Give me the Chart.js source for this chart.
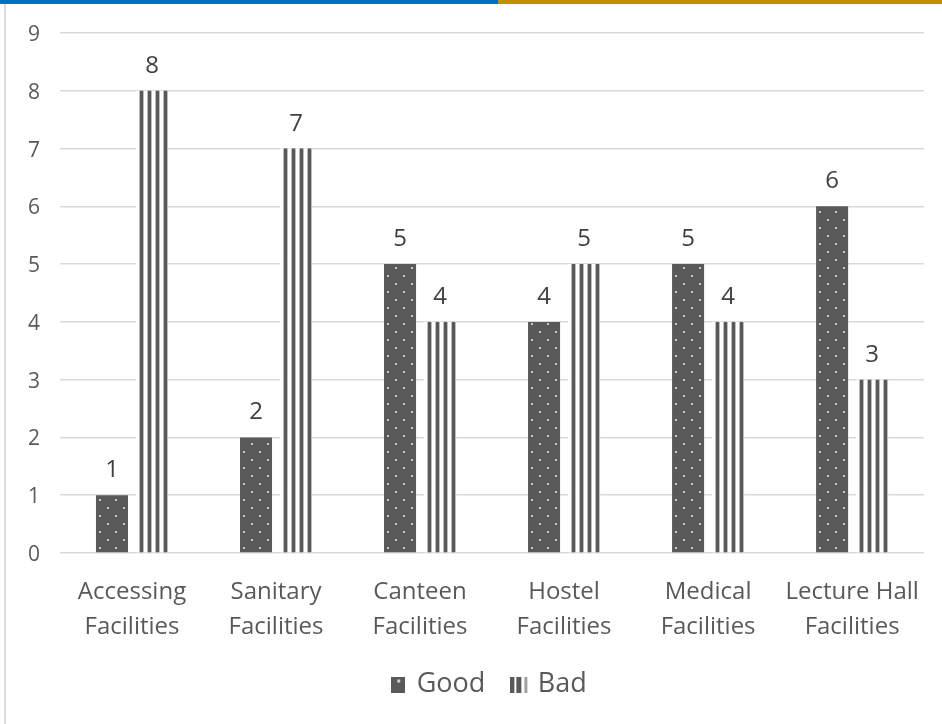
<!DOCTYPE html>
<html>
<head>
<meta charset="utf-8">
<script src="https://cdn.jsdelivr.net/npm/chart.js@4"></script>
<style>
  html, body { margin: 0; padding: 0; background: #fff; }
  #topbar { position: absolute; left: 0; top: 0; width: 942px; height: 4px;
    background: linear-gradient(to right, #0070c0 0, #0070c0 498px, #c09000 498px, #c09000 100%); }
  #edge { position: absolute; left: 4px; top: 4px; width: 2px; height: 720px; background: #dcdcdc; }
  #wrap { position: absolute; left: 0; top: 0; width: 942px; height: 724px; }
</style>
</head>
<body>
<div id="wrap"><canvas id="chart"></canvas></div>
<div id="topbar"></div>
<div id="edge"></div>
<script>
// Dados do gráfico
const categories = [
  ['Accessing', 'Facilities'],
  ['Sanitary', 'Facilities'],
  ['Canteen', 'Facilities'],
  ['Hostel', 'Facilities'],
  ['Medical', 'Facilities'],
  ['Lecture Hall', 'Facilities']
];
const goodValues = [1, 2, 5, 4, 5, 6];
const badValues = [8, 7, 4, 5, 4, 3];
const yTicks = [0, 1, 2, 3, 4, 5, 6, 7, 8, 9];

const FONT = "'Open Sans', 'DejaVu Sans', sans-serif";
const PAD_BOTTOM = 16;
const PLOT_BOTTOM = 553;
const LEGEND_SHIFT = 26;

// padrão de pontos (Good)
function dotPattern() {
  const c = document.createElement('canvas');
  c.width = 16; c.height = 16;
  const g = c.getContext('2d');
  g.fillStyle = '#595959';
  g.fillRect(0, 0, 16, 16);
  g.fillStyle = '#c8c8c8';
  g.fillRect(3, 3, 2, 2);
  g.fillRect(11, 11, 2, 2);
  return g.createPattern(c, 'repeat');
}

// padrão de listras verticais (Bad)
function stripePattern() {
  const c = document.createElement('canvas');
  c.width = 8; c.height = 8;
  const g = c.getContext('2d');
  g.fillStyle = '#ffffff';
  g.fillRect(0, 0, 8, 8);
  g.fillStyle = '#bdbdbd';
  g.fillRect(3, 0, 1, 8);
  g.fillRect(7, 0, 1, 8);
  g.fillStyle = '#595959';
  g.fillRect(4, 0, 3, 8);
  return g.createPattern(c, 'repeat');
}

// ícones da legenda
function goodIcon() {
  const c = document.createElement('canvas');
  c.width = 14; c.height = 16;
  const g = c.getContext('2d');
  g.fillStyle = '#595959';
  g.fillRect(0, 0, 14, 16);
  g.fillStyle = '#d0d0d0';
  g.fillRect(6, 3, 3, 3);
  return c;
}

function badIcon() {
  const c = document.createElement('canvas');
  c.width = 18; c.height = 16;
  const g = c.getContext('2d');
  g.fillStyle = '#595959';
  g.fillRect(0, 0, 4, 16);
  g.fillRect(6, 0, 5, 16);
  g.fillStyle = '#a0a0a0';
  g.fillRect(14, 0, 3, 16);
  return c;
}

const legendIcons = [goodIcon(), badIcon()];

// rótulos de valor acima das barras
const valueLabels = {
  id: 'valueLabels',
  afterLayout(chart) {
    // centraliza a legenda como no original
    chart.legend.left += LEGEND_SHIFT;
    chart.legend.right += LEGEND_SHIFT;
  },
  afterDatasetsDraw(chart) {
    const ctx = chart.ctx;
    ctx.save();
    ctx.font = '24px ' + FONT;
    ctx.fillStyle = '#404040';
    ctx.textAlign = 'center';
    ctx.textBaseline = 'alphabetic';
    chart.data.datasets.forEach((ds, i) => {
      chart.getDatasetMeta(i).data.forEach((bar, j) => {
        ctx.fillText(ds.data[j], bar.x, bar.y - 18);
      });
    });
    ctx.restore();
  }
};

function initChart() {
  new Chart(document.getElementById('chart'), {
    type: 'bar',
    data: {
      labels: categories,
      datasets: [
        { label: 'Good', data: goodValues, backgroundColor: dotPattern(), borderWidth: 0 },
        { label: 'Bad', data: badValues, backgroundColor: stripePattern(), borderWidth: 0 }
      ]
    },
    options: {
      responsive: false,
      animation: false,
      devicePixelRatio: 1,
      layout: { padding: { top: 33, right: 14, bottom: PAD_BOTTOM, left: 0 } },
      datasets: { bar: { categoryPercentage: 0.556, barPercentage: 0.8 } },
      scales: {
        y: {
          min: 0, max: 9,
          afterBuildTicks: s => { s.ticks = yTicks.map(v => ({ value: v })); },
          afterFit: s => { s.width = 60; },
          border: { display: false },
          grid: { color: '#d9d9d9', lineWidth: 1.5, drawTicks: false },
          ticks: { color: '#595959', font: { family: FONT, size: 21 }, padding: 20, labelOffset: 2 }
        },
        x: {
          afterFit: s => {
            const lg = s.chart.legend ? s.chart.legend.height : 0;
            s.height = s.chart.height - PAD_BOTTOM - lg - PLOT_BOTTOM;
          },
          border: { display: false },
          grid: { display: false, drawTicks: false },
          ticks: { color: '#595959', font: { family: FONT, size: 24, lineHeight: 1.44 }, padding: 22, maxRotation: 0 }
        }
      },
      plugins: {
        legend: {
          position: 'bottom',
          labels: {
            color: '#595959',
            font: { family: FONT, size: 27 },
            usePointStyle: true,
            pointStyleWidth: 10,
            padding: 29,
            generateLabels: chart => {
              const items = Chart.defaults.plugins.legend.labels.generateLabels(chart);
              items.forEach((it, i) => { it.pointStyle = legendIcons[i]; });
              return items;
            }
          }
        },
        tooltip: { enabled: false }
      }
    },
    plugins: [valueLabels]
  });
}

const cv = document.getElementById('chart');
cv.width = 942; cv.height = 724;
cv.style.width = '942px'; cv.style.height = '724px';
document.addEventListener('DOMContentLoaded', initChart);
</script>
</body>
</html>
